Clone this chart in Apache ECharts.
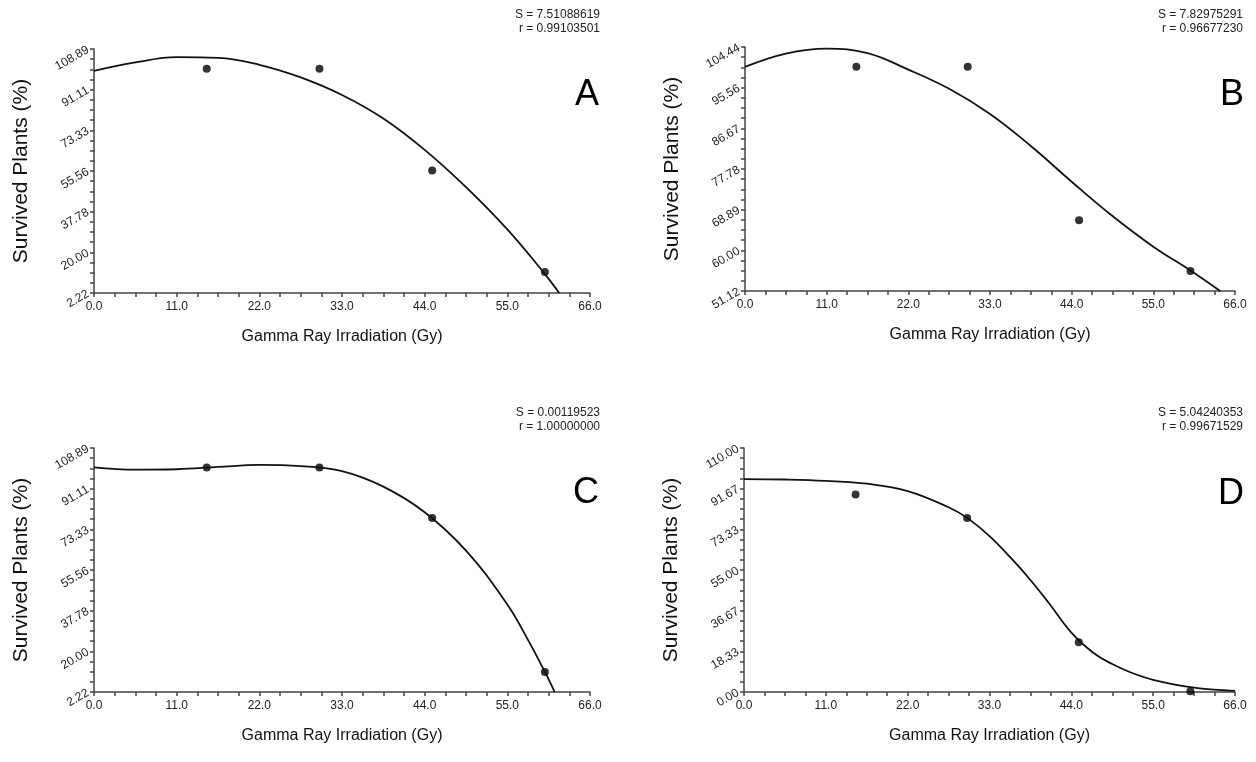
<!DOCTYPE html>
<html>
<head>
<meta charset="utf-8">
<script src="https://cdn.jsdelivr.net/npm/echarts@6/dist/echarts.min.js"></script>
<style>
  html, body { margin: 0; padding: 0; background: #fff; }
  #chart { width: 1256px; height: 762px; }
</style>
</head>
<body>
<div id="chart"></div>
<script>
// x ticks shared by all panels
const xTicks = ["0.0", "11.0", "22.0", "33.0", "44.0", "55.0", "66.0"];

// y tick labels per panel
const yTicksA = ["2.22", "20.00", "37.78", "55.56", "73.33", "91.11", "108.89"];
const yTicksB = ["51.12", "60.00", "68.89", "77.78", "86.67", "95.56", "104.44"];
const yTicksC = ["2.22", "20.00", "37.78", "55.56", "73.33", "91.11", "108.89"];
const yTicksD = ["0.00", "18.33", "36.67", "55.00", "73.33", "91.67", "110.00"];

// observed points (dose, survival)
const doses = [15, 30, 45, 60];
const obsA = [100.3, 100.3, 55.8, 11.4];
const obsB = [100.1, 100.1, 66.6, 55.5];
const obsC = [100.4, 100.4, 78.3, 11.0];
const obsD = [89.0, 78.4, 22.4, 0.3];

// fitted curves
const fitAx = [0, 5.5, 11, 16.5, 22, 27.5, 33, 38.5, 44, 49.5, 55, 60, 61.9];
const fitAy = [99.3, 103.0, 105.3, 105.0, 102.0, 96.5, 88.8, 78.5, 64.8, 48.5, 30.0, 10.5, 2.22];
const fitBx = [0, 5.5, 11, 16.5, 22, 27.5, 33, 38.5, 44, 49.5, 55, 60, 64];
const fitBy = [100.1, 103.0, 104.1, 103.1, 99.5, 95.3, 89.8, 82.8, 75.0, 67.5, 60.8, 55.6, 51.12];
const fitCx = [0, 5.5, 11, 16.5, 22, 27.5, 33, 38.5, 44, 49.5, 55, 58, 60, 61.3];
const fitCy = [100.4, 99.4, 99.6, 100.6, 101.5, 101.0, 98.8, 92.0, 80.8, 64.0, 40.5, 23.5, 11.0, 2.22];
const fitDx = [0, 5.5, 11, 16.5, 22, 27.5, 30, 33, 36, 38.5, 41, 44, 47, 49.5, 52, 55, 60, 66];
const fitDy = [96.0, 95.8, 95.2, 93.9, 90.6, 83.3, 78.5, 70.3, 60.0, 50.5, 40.0, 26.8, 17.6, 12.6, 8.8, 5.5, 2.2, 0.5];

const stats = [
  ["S = 7.51088619", "r = 0.99103501"],
  ["S = 7.82975291", "r = 0.96677230"],
  ["S = 0.00119523", "r = 1.00000000"],
  ["S = 5.04240353", "r = 0.99671529"]
];
const letters = ["A", "B", "C", "D"];

const FONT = "Liberation Sans, Arial, sans-serif";
const AXIS_COLOR = "#444";

const grids = [
  { left: 94, top: 49, width: 496, height: 244 },
  { left: 745, top: 47, width: 490, height: 244 },
  { left: 94, top: 448, width: 496, height: 244 },
  { left: 744, top: 448, width: 491, height: 244 }
];

function pairs(xs, ys) {
  return xs.map((x, i) => [x, ys[i]]);
}

function xAxisFor(idx) {
  return {
    type: "value",
    gridIndex: idx,
    min: 0,
    max: 66,
    interval: 11,
    name: "Gamma Ray Irradiation (Gy)",
    nameLocation: "middle",
    nameGap: 36,
    nameTextStyle: { fontFamily: FONT, fontSize: 16, color: "#111" },
    axisLine: { show: true, lineStyle: { color: AXIS_COLOR, width: 1.5 } },
    axisTick: { show: true, length: 4, lineStyle: { color: AXIS_COLOR, width: 1.5 } },
    minorTick: { show: true, splitNumber: 4, length: 4, lineStyle: { color: AXIS_COLOR, width: 1.5 } },
    splitLine: { show: false },
    minorSplitLine: { show: false },
    axisLabel: {
      fontFamily: FONT,
      fontSize: 12,
      color: "#222",
      margin: 8,
      formatter: (v) => xTicks[Math.round(v / 11)]
    }
  };
}

function yAxisFor(idx, ticks) {
  const lo = parseFloat(ticks[0]);
  const hi = parseFloat(ticks[ticks.length - 1]);
  const step = (hi - lo) / (ticks.length - 1);
  return {
    type: "value",
    gridIndex: idx,
    min: lo,
    max: hi,
    interval: step,
    name: "Survived Plants (%)",
    nameLocation: "middle",
    nameGap: 62,
    nameTextStyle: { fontFamily: FONT, fontSize: 21, color: "#111" },
    axisLine: { show: true, lineStyle: { color: AXIS_COLOR, width: 1.5 } },
    axisTick: { show: true, length: 4, lineStyle: { color: AXIS_COLOR, width: 1.5 } },
    minorTick: { show: true, splitNumber: 4, length: 4, lineStyle: { color: AXIS_COLOR, width: 1.5 } },
    splitLine: { show: false },
    minorSplitLine: { show: false },
    axisLabel: {
      fontFamily: FONT,
      fontSize: 12,
      color: "#222",
      rotate: 30,
      margin: 6,
      formatter: (v) => ticks[Math.round((v - lo) / step)]
    }
  };
}

const yTicksAll = [yTicksA, yTicksB, yTicksC, yTicksD];
const fits = [pairs(fitAx, fitAy), pairs(fitBx, fitBy), pairs(fitCx, fitCy), pairs(fitDx, fitDy)];
const obs = [pairs(doses, obsA), pairs(doses, obsB), pairs(doses, obsC), pairs(doses, obsD)];

const series = [];
for (let i = 0; i < 4; i++) {
  series.push({
    type: "line",
    xAxisIndex: i,
    yAxisIndex: i,
    data: fits[i],
    smooth: 0.4,
    showSymbol: false,
    lineStyle: { color: "#111", width: 1.8 },
    silent: true
  });
  series.push({
    type: "scatter",
    xAxisIndex: i,
    yAxisIndex: i,
    data: obs[i],
    symbolSize: 8,
    itemStyle: { color: "#000" },
    silent: true
  });
}

// stats text and panel letters
const statPos = [[600, 15], [1243, 15], [600, 413], [1243, 413]];
const letterPos = [[599, 95], [1244, 95], [599, 493], [1244, 494]];
const graphic = [];
for (let i = 0; i < 4; i++) {
  stats[i].forEach((t, j) => {
    graphic.push({
      type: "text",
      x: statPos[i][0],
      y: statPos[i][1] + j * 14,
      style: {
        text: t,
        font: "12px " + FONT,
        fill: "#222",
        textAlign: "right",
        textVerticalAlign: "middle",
        verticalAlign: "middle"
      }
    });
  });
  graphic.push({
    type: "text",
    x: letterPos[i][0],
    y: letterPos[i][1],
    style: {
      text: letters[i],
      font: "36px " + FONT,
      fill: "#000",
      textAlign: "right",
      textVerticalAlign: "middle",
      verticalAlign: "middle"
    }
  });
}

const chart = echarts.init(document.getElementById("chart"), null, { renderer: "canvas" });
chart.setOption({
  animation: false,
  backgroundColor: "#fff",
  grid: grids,
  xAxis: [0, 1, 2, 3].map(xAxisFor),
  yAxis: [0, 1, 2, 3].map((i) => yAxisFor(i, yTicksAll[i])),
  series: series,
  graphic: graphic
});
</script>
</body>
</html>
